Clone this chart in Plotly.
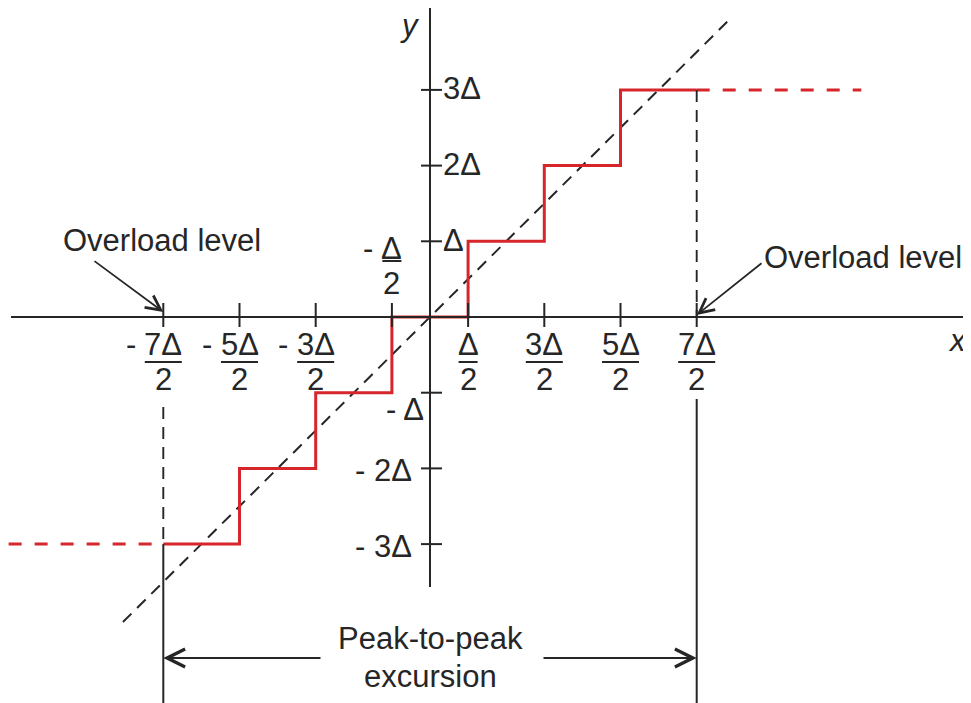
import plotly.graph_objects as go

# ---------------- data (all values in units of Δ) ----------------
levels = [-3, -2, -1, 0, 1, 2, 3]                               # quantizer output levels
step_edges = [-3.5, -2.5, -1.5, -0.5, 0.5, 1.5, 2.5, 3.5]       # decision thresholds
overload = 3.5                                                  # overload level (±7Δ/2)
ext_left = -5.53                                                # dashed continuation, left end
ext_right = 5.66                                                # dashed continuation, right end
diag_x = [-4.03, 3.9]                                           # ideal y = x line extent

x_tick_vals = [-3.5, -2.5, -1.5, -0.5, 0.5, 1.5, 2.5, 3.5]
x_tick_num = ["7Δ", "5Δ", "3Δ", "Δ", "Δ", "3Δ", "5Δ", "7Δ"]
x_tick_den = ["2", "2", "2", "2", "2", "2", "2", "2"]

y_tick_vals = [-3, -2, -1, 1, 2, 3]
y_tick_text = ["- 3Δ", "- 2Δ", "- Δ", "Δ", "2Δ", "3Δ"]

# ---------------- layout helpers ----------------
PAGE_W, PAGE_H = 971, 703
BODY = 8                    # default page margin around the plot div
W, H = PAGE_W - BODY, PAGE_H - BODY
OX, OY = 430, 317           # page-pixel position of origin
UX, UY = 76.2, 75.7         # pixels per Δ
X_RANGE = [(BODY - OX) / UX, (PAGE_W - OX) / UX]
Y_RANGE = [(OY - PAGE_H) / UY, (OY - BODY) / UY]

def px_x(p):
    return (p - OX) / UX

def px_y(p):
    return (OY - p) / UY

INK = "#262626"
RED = "#d6262b"
FONT = "Liberation Sans, Arial, sans-serif"
FS = 31

fig = go.Figure()
shapes = []
ann = []

def seg(x0, y0, x1, y1, width=2, dash=None, color=INK):
    line = dict(color=color, width=width)
    if dash:
        line["dash"] = dash
    shapes.append(dict(type="line", xref="x", yref="y", x0=x0, y0=y0, x1=x1, y1=y1,
                       line=line, layer="above"))

# axes
seg(px_x(11), 0, X_RANGE[1], 0, width=2)
seg(0, px_y(7), 0, px_y(587), width=2)

# x ticks
for t in x_tick_vals:
    seg(t, px_y(303), t, px_y(327), width=2)
# y ticks
for v in y_tick_vals:
    seg(px_x(421), v, px_x(442), v, width=2)

# overload vertical lines
DASH = "12px,8px"
seg(-overload, px_y(407), -overload, levels[0], width=1.9, dash=DASH)
seg(-overload, levels[0], -overload, Y_RANGE[0], width=2)
seg(overload, levels[-1], overload, 0, width=1.9, dash=DASH)
seg(overload, px_y(399), overload, Y_RANGE[0], width=2)

# ideal line y = x
fig.add_trace(go.Scatter(x=diag_x, y=diag_x, mode="lines",
                         line=dict(color=INK, width=2, dash=DASH),
                         hoverinfo="skip", showlegend=False))

# staircase (solid)
fig.add_trace(go.Scatter(x=step_edges, y=levels + [levels[-1]], mode="lines",
                         line=dict(color=RED, width=3, shape="hv"),
                         hoverinfo="skip", showlegend=False))
# dashed continuation beyond overload
fig.add_trace(go.Scatter(x=[ext_left, step_edges[0]], y=[levels[0], levels[0]], mode="lines",
                         line=dict(color=RED, width=3, dash="13px,13px"),
                         hoverinfo="skip", showlegend=False))
fig.add_trace(go.Scatter(x=[step_edges[-1], ext_right], y=[levels[-1], levels[-1]], mode="lines",
                         line=dict(color=RED, width=3, dash="13px,13px"),
                         hoverinfo="skip", showlegend=False))

def text(x, y, s, xanchor="center", yanchor="middle", xshift=0, yshift=0, size=FS, italic=False):
    if italic:
        s = "<i>" + s + "</i>"
    ann.append(dict(x=x, y=y, xref="x", yref="y", text=s, showarrow=False,
                    xanchor=xanchor, yanchor=yanchor, xshift=xshift, yshift=yshift,
                    font=dict(family=FONT, size=size, color=INK)))

# x tick labels as fractions
for t, num, den in zip(x_tick_vals, x_tick_num, x_tick_den):
    if t == -0.5:
        num_px, bar_px, den_px = 248, 261, 283
    else:
        num_px, bar_px, den_px = 344, 362, 379
    w = (18 * len(num) + 1) / UX
    text(t, px_y(num_px), num)
    text(t, px_y(den_px), den)
    seg(t - w / 2, px_y(bar_px), t + w / 2, px_y(bar_px), width=2)
    if t < 0:
        text(t - w / 2, px_y(num_px), "-", xanchor="right", xshift=-7)

# y tick labels
for v, s in zip(y_tick_vals, y_tick_text):
    if v > 0:
        text(0, v, s, xanchor="left", xshift=11, yshift=1)
    elif v == -1:
        text(0, v, s, xanchor="right", xshift=-4, yshift=-17)
    else:
        text(0, v, s, xanchor="right", xshift=-16, yshift=-2)

# axis names
text(X_RANGE[1], px_y(340), "x", xanchor="right", xshift=-2, italic=True)
text(px_x(410), px_y(25), "y", italic=True)

# annotations text
text(px_x(162), px_y(240), "Overload level")
text(px_x(863), px_y(257), "Overload level")
text(0, px_y(638), "Peak-to-peak")
text(0, px_y(676), "excursion")

def arrow(x_head, y_head, x_tail, y_tail, width=1.8):
    ann.append(dict(x=x_head, y=y_head, ax=x_tail, ay=y_tail, xref="x", yref="y",
                    axref="x", ayref="y", text="", showarrow=True,
                    arrowhead=5, arrowsize=1.6, arrowwidth=width, arrowcolor=INK,
                    standoff=0, startstandoff=0))

arrow(-overload, px_y(312), px_x(93), px_y(260))
arrow(overload, px_y(315), px_x(763), px_y(262))
arrow(-overload, px_y(658), px_x(322), px_y(658), width=2.2)
arrow(overload, px_y(658), px_x(542), px_y(658), width=2.2)

fig.update_layout(
    width=W, height=H,
    margin=dict(l=0, r=0, t=0, b=0),
    paper_bgcolor="white", plot_bgcolor="white",
    xaxis=dict(range=X_RANGE, visible=False, fixedrange=True),
    yaxis=dict(range=Y_RANGE, visible=False, fixedrange=True),
    shapes=shapes, annotations=ann, showlegend=False,
)

fig.write_html("out.html")
